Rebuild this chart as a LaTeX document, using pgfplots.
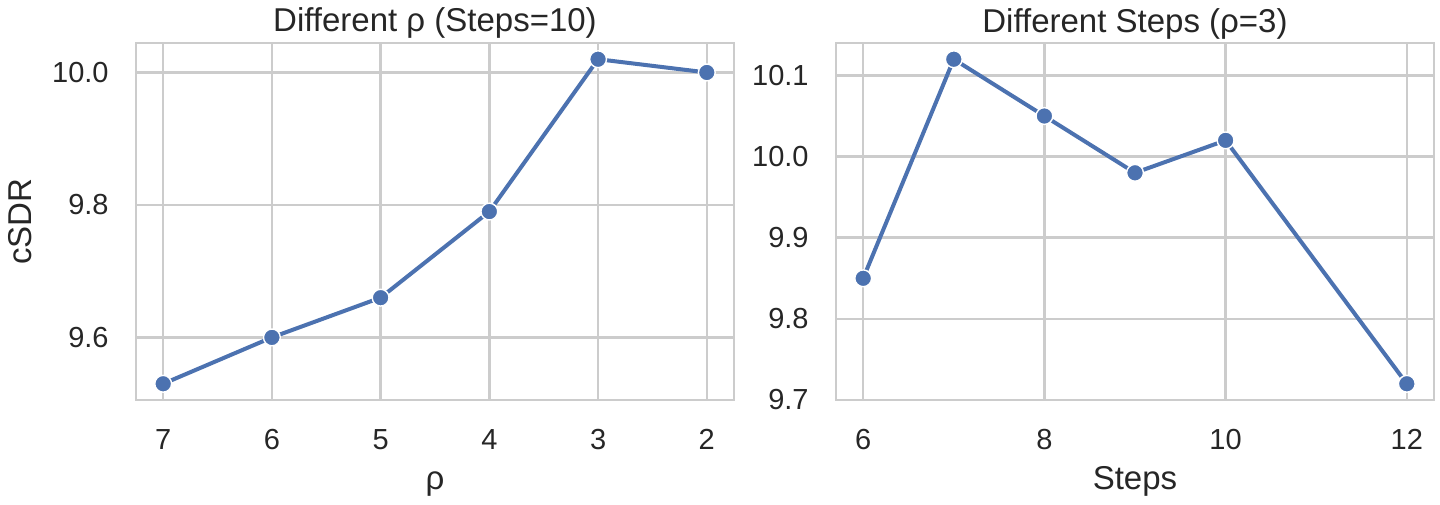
\documentclass[border=0pt]{standalone}
\usepackage{fontspec}
\setmainfont{Liberation Sans}
\usepackage{pgfplots}
\pgfplotsset{compat=1.18}

\definecolor{sblue}{HTML}{4C72B0}
\definecolor{gridgray}{HTML}{CCCCCC}
\definecolor{txt}{HTML}{262626}

\pgfplotsset{
  panel/.style={
    scale only axis, width=299pt, height=178.5pt,
    axis line style={gridgray, line width=1.4pt},
    grid=major, major grid style={gridgray, line width=1.3pt},
    major tick length=0pt,
    tick label style={font=\fontsize{14.5}{17}\selectfont, text=txt, inner sep=0pt},
    xticklabel style={anchor=base, yshift=-24.5pt},
    yticklabel style={anchor=east, xshift=-13.5pt},
    /pgf/number format/assume math mode=true,
    label style={font=\fontsize{16.5}{19}\selectfont, text=txt, inner sep=0pt},
    xlabel style={at={(axis description cs:0.5,-0.2493)}, anchor=base},
    % default title style already shifts up by 6pt
    title style={font=\fontsize{16.5}{19}\selectfont, text=txt, inner sep=0pt,
                 at={(axis description cs:0.5,1)}, anchor=base, yshift=-0.5pt},
  },
  series/.style={sblue, line width=2pt, mark=*, mark size=4.2pt,
    mark options={fill=sblue, draw=white, line width=0.7pt}},
}

\begin{document}
\begin{tikzpicture}
\path[use as bounding box] (-68pt,-52pt) rectangle (652pt,200pt);

\begin{axis}[panel,
  at={(0pt,0pt)}, anchor=south west,
  x dir=reverse,
  xmin=1.75, xmax=7.25, ymin=9.5055, ymax=10.0445,
  xtick={2,3,4,5,6,7},
  ytick={9.6,9.8,10.0},
  yticklabel style={/pgf/number format/.cd, fixed, precision=1, zerofill},
  title={Different ρ (Steps=10)},
  xlabel={ρ},
  ylabel={cSDR},
  ylabel style={at={(axis description cs:-0.1739,0.5)}, anchor=base, rotate=0},
]
\addplot[series] coordinates {
  (7, 9.53) (6, 9.60) (5, 9.66) (4, 9.79) (3, 10.02) (2, 10.00)
};
\end{axis}

\begin{axis}[panel,
  at={(350pt,0pt)}, anchor=south west,
  xmin=5.7, xmax=12.3, ymin=9.70, ymax=10.14,
  xtick={6,8,10,12},
  ytick={9.7,9.8,9.9,10.0,10.1},
  yticklabel style={/pgf/number format/.cd, fixed, precision=1, zerofill},
  title={Different Steps (ρ=3)},
  xlabel={Steps},
]
\addplot[series] coordinates {
  (6, 9.85) (7, 10.12) (8, 10.05) (9, 9.98) (10, 10.02) (12, 9.72)
};
\end{axis}
\end{tikzpicture}
\end{document}
